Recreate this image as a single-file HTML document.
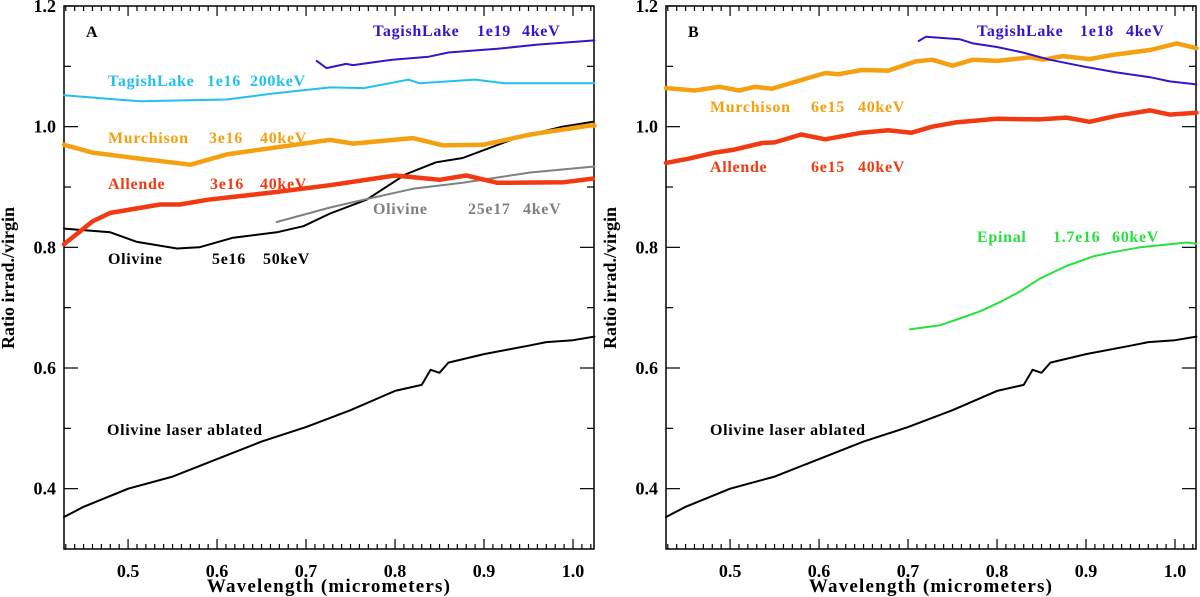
<!DOCTYPE html>
<html><head><meta charset="utf-8"><style>
html,body{margin:0;padding:0;background:#fff;}
svg{display:block;font-family:"Liberation Serif",serif;font-weight:bold;}
</style></head><body>
<svg id="chart" width="1200" height="597" viewBox="0 0 1200 597"></svg>
<script>
// ---- data ----
const wlLaser=[0.428,0.45,0.5,0.55,0.6,0.65,0.7,0.75,0.8,0.83,0.84,0.85,0.86,0.9,0.95,0.97,1.0,1.024];
const laser=[0.353,0.37,0.40,0.42,0.449,0.478,0.502,0.53,0.562,0.572,0.597,0.592,0.609,0.623,0.637,0.643,0.646,0.652];
const wlOl50=[0.428,0.48,0.51,0.555,0.58,0.618,0.667,0.697,0.727,0.768,0.812,0.846,0.876,0.936,0.988,1.022];
const oliv50=[0.831,0.825,0.809,0.798,0.80,0.816,0.825,0.835,0.856,0.879,0.921,0.941,0.948,0.981,1.0,1.008];
const wlAllA=[0.428,0.46,0.48,0.536,0.558,0.59,0.663,0.727,0.8,0.85,0.88,0.915,0.99,1.022];
const alleA=[0.805,0.843,0.857,0.871,0.871,0.879,0.891,0.903,0.919,0.912,0.919,0.907,0.908,0.914];
const wlMurA=[0.428,0.46,0.513,0.57,0.611,0.663,0.727,0.753,0.82,0.854,0.899,0.952,1.019,1.024];
const murchA=[0.97,0.957,0.947,0.937,0.954,0.965,0.978,0.972,0.981,0.969,0.97,0.987,1.002,1.002];
const wlTagA=[0.428,0.513,0.611,0.663,0.727,0.765,0.815,0.827,0.89,0.923,1.024];
const tagA=[1.052,1.042,1.045,1.055,1.065,1.064,1.078,1.072,1.078,1.072,1.072];
const wlGray=[0.667,0.727,0.765,0.82,0.876,0.952,1.024];
const oliv4=[0.842,0.866,0.879,0.897,0.907,0.924,0.934];
const wlTag19=[0.712,0.723,0.745,0.753,0.797,0.838,0.86,0.915,0.96,1.024];
const tag19=[1.109,1.097,1.104,1.102,1.111,1.116,1.123,1.129,1.136,1.143];
const wlTag18=[0.712,0.72,0.758,0.773,0.8,0.829,0.859,0.896,0.934,0.972,0.994,1.024];
const tag18=[1.142,1.149,1.145,1.138,1.132,1.123,1.111,1.10,1.09,1.082,1.075,1.07];
const wlMurB=[0.428,0.46,0.488,0.51,0.528,0.547,0.584,0.607,0.622,0.648,0.678,0.708,0.727,0.75,0.773,0.8,0.837,0.852,0.874,0.904,0.93,0.972,1.002,1.024];
const murchB=[1.064,1.06,1.066,1.06,1.066,1.063,1.079,1.089,1.087,1.094,1.093,1.108,1.111,1.101,1.111,1.109,1.115,1.111,1.117,1.112,1.119,1.127,1.138,1.13];
const wlAllB=[0.428,0.454,0.483,0.505,0.536,0.55,0.58,0.607,0.648,0.678,0.704,0.727,0.754,0.8,0.848,0.878,0.904,0.934,0.972,0.994,1.024];
const alleB=[0.94,0.947,0.957,0.962,0.973,0.974,0.987,0.979,0.99,0.994,0.99,1.0,1.007,1.013,1.012,1.015,1.008,1.018,1.027,1.02,1.023];
const wlEpi=[0.702,0.736,0.758,0.781,0.803,0.826,0.848,0.878,0.908,0.93,0.961,1.013,1.024];
const epinal=[0.664,0.671,0.682,0.694,0.709,0.727,0.748,0.769,0.785,0.792,0.80,0.808,0.806];
const xTicks=[0.5,0.6,0.7,0.8,0.9,1.0];
const yTicks=[0.4,0.6,0.8,1.0,1.2];

const svg=document.getElementById('chart');
const NS='http://www.w3.org/2000/svg';
function el(tag,attrs,parent){const e=document.createElementNS(NS,tag);for(const k in attrs)e.setAttribute(k,attrs[k]);(parent||svg).appendChild(e);return e;}
const T=6,B=549,W=530,X0=0.428,X1=1.0236,Y0=0.3,Y1=1.2;

function panel(left,name){
  const g=el('g',{});
  
  
  const xs=w=>left+(w-X0)/(X1-X0)*W;
  const ys=v=>B-(v-Y0)/(Y1-Y0)*(B-T);
  const frame=el('rect',{x:left,y:T,width:W,height:B-T,fill:'none',stroke:'#000','stroke-width':1.5},g);
  
  
  for(let i=43;i<=102;i++){const w=i/100,x=xs(w);if(x>left+W)break;const maj=i%10==0;const L=maj?10:5;
    el('line',{x1:x,x2:x,y1:B,y2:B-L,stroke:'#000','stroke-width':1.2},g);
    el('line',{x1:x,x2:x,y1:T,y2:T+L,stroke:'#000','stroke-width':1.2},g);}
  xTicks.forEach(w=>{const t=el('text',{x:xs(w),y:B+28,'text-anchor':'middle','font-size':18},g);t.textContent=w.toFixed(1);
    });
  for(let i=4;i<=12;i++){const v=i/10,y=ys(v);const maj=i%2==0;const L=maj?14:7;
    el('line',{x1:left,x2:left+L,y1:y,y2:y,stroke:'#000','stroke-width':1.2},g);
    el('line',{x1:left+W,x2:left+W-L,y1:y,y2:y,stroke:'#000','stroke-width':1.2},g);}
  yTicks.forEach(v=>{const t=el('text',{x:left-8,y:ys(v)+6,'text-anchor':'end','font-size':18},g);t.textContent=v.toFixed(1);
    });
  const xt=el('text',{x:left+W/2,y:592,'text-anchor':'middle','font-size':19,'letter-spacing':1.2},g);xt.textContent='Wavelength (micrometers)';
  
  const yt=el('text',{x:0,y:0,'text-anchor':'middle','font-size':18,transform:`translate(${left-50},278) rotate(-90)`},g);yt.textContent='Ratio irrad./virgin';
  
  return {g,xs,ys};
}
function series(p,wl,vals,color,width,name){
  const d=wl.map((w,i)=>(i?'L':'M')+p.xs(w).toFixed(1)+','+p.ys(vals[i]).toFixed(1)).join(' ');
  const path=el('path',{d,fill:'none',stroke:color,'stroke-width':width,'stroke-linejoin':'round','stroke-linecap':'round'},p.g);
  
  
}
function label(p,parts,y,color,name){
  const g=el('g',{fill:color,'font-size':16,'letter-spacing':0.7},p.g);
  
  
  parts.forEach(([x,s])=>{const t=el('text',{x,y},g);t.textContent=s;});
}
const blue='#3414cc',cyan='#22c0f0',orange='#f5a010',red='#f23a12',gray='#808080',green='#28e040';
const A=panel(64,'panel-a');
series(A,wlLaser,laser,'#000',2,'olivine-laser-line');
series(A,wlOl50,oliv50,'#000',2,'olivine-5e16-line');
series(A,wlGray,oliv4,gray,2,'olivine-25e17-line');
series(A,wlAllA,alleA,red,4.5,'allende-3e16-line');
series(A,wlMurA,murchA,orange,4.5,'murchison-3e16-line');
series(A,wlTagA,tagA,cyan,2,'tagishlake-1e16-line');
series(A,wlTag19,tag19,blue,2,'tagishlake-1e19-line');
label(A,[[86,'A']],37,'#000','panel-a-letter');
label(A,[[373,'TagishLake'],[477,'1e19'],[522,'4keV']],36,blue,'tagishlake-1e19-label');
label(A,[[108,'TagishLake'],[207,'1e16'],[250,'200keV']],86,cyan,'tagishlake-1e16-label');
label(A,[[108,'Murchison'],[209,'3e16'],[260,'40keV']],143,orange,'murchison-label');
label(A,[[108,'Allende'],[210,'3e16'],[260,'40keV']],189,red,'allende-label');
label(A,[[373,'Olivine'],[468,'25e17'],[523,'4keV']],214,gray,'olivine-4kev-label');
label(A,[[108,'Olivine'],[212,'5e16'],[263,'50keV']],264,'#000','olivine-50kev-label');
label(A,[[107,'Olivine laser ablated']],435,'#000','laser-label');

const Bp=panel(666,'panel-b');
series(Bp,wlLaser,laser,'#000',2,'olivine-laser-line');
series(Bp,wlEpi,epinal,green,2,'epinal-line');
series(Bp,wlAllB,alleB,red,4.5,'allende-6e15-line');
series(Bp,wlMurB,murchB,orange,4.5,'murchison-6e15-line');
series(Bp,wlTag18,tag18,blue,2,'tagishlake-1e18-line');
label(Bp,[[688,'B']],37,'#000','panel-b-letter');
label(Bp,[[977,'TagishLake'],[1080,'1e18'],[1126,'4keV']],36,blue,'tagishlake-1e18-label');
label(Bp,[[710,'Murchison'],[811,'6e15'],[858,'40keV']],112,orange,'murchison-label');
label(Bp,[[710,'Allende'],[811,'6e15'],[858,'40keV']],172,red,'allende-label');
label(Bp,[[977,'Epinal'],[1053,'1.7e16'],[1112,'60keV']],242,green,'epinal-label');
label(Bp,[[710,'Olivine laser ablated']],435,'#000','laser-label');
</script>
</body></html>
